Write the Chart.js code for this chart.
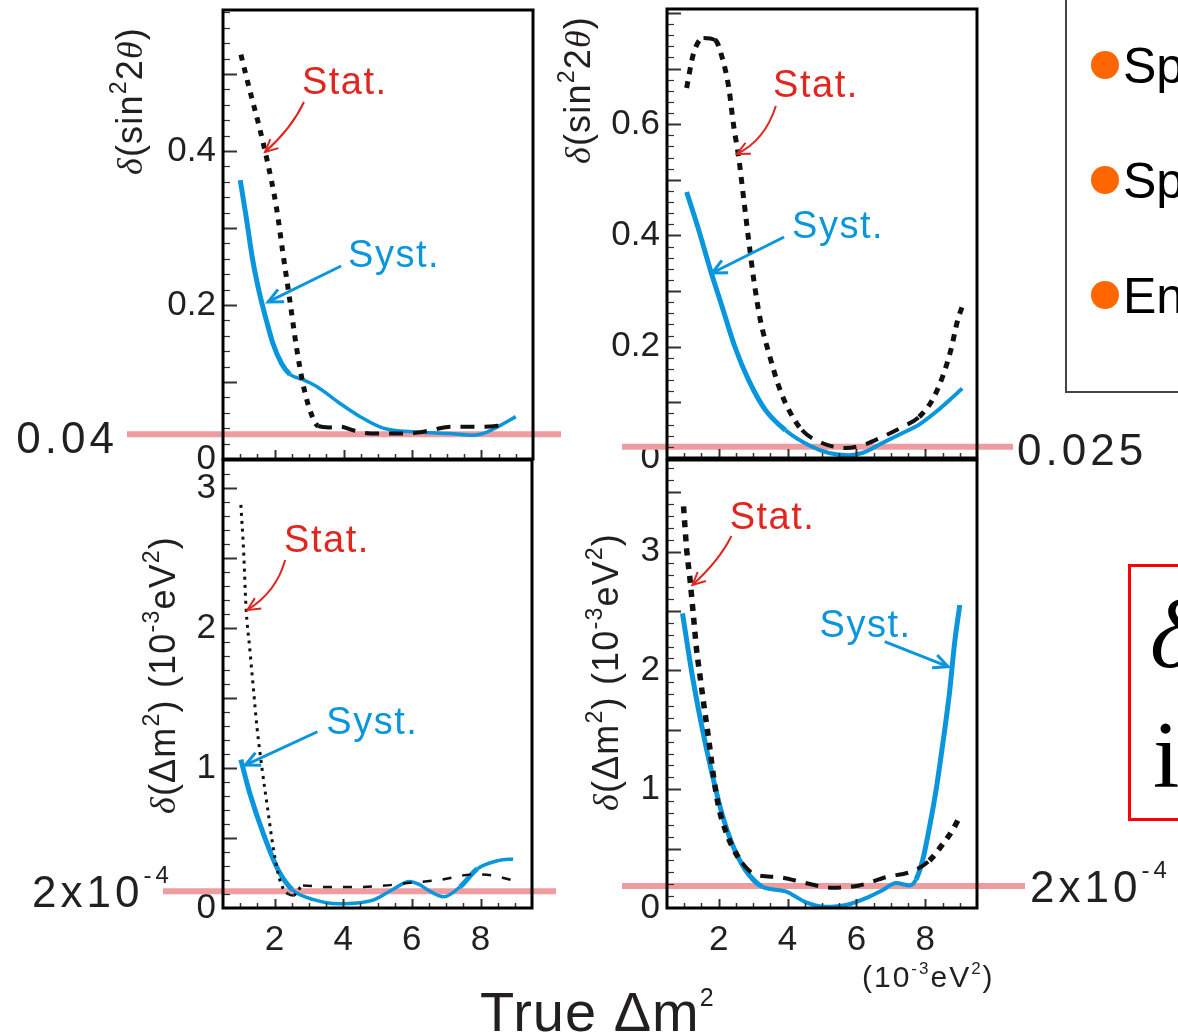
<!DOCTYPE html>
<html>
<head>
<meta charset="utf-8">
<title>Stat. vs Syst.</title>
<script src="https://cdn.jsdelivr.net/npm/chart.js@4.4.1/dist/chart.umd.min.js"></script>
<style>
  body { margin: 0; background: #fff; }
  #wrap { position: relative; width: 1178px; height: 1036px; overflow: hidden; }
  #wrap canvas { position: absolute; left: 0; top: 0; }
</style>
</head>
<body>
<div id="wrap">
  <canvas id="tl" width="1178" height="1036"></canvas>
  <canvas id="tr" width="1178" height="1036"></canvas>
  <canvas id="bl" width="1178" height="1036"></canvas>
  <canvas id="br" width="1178" height="1036"></canvas>
</div>
<script>
// ===== DATA =====
const xTicks = [2, 4, 6, 8];
const sinTicks = [0, 0.2, 0.4, 0.6];
const dmTicks = [0, 1, 2, 3];

// top left: delta(sin^2 2theta)
const tlStatX = [1.02, 1.27, 1.56, 1.8, 2.05, 2.24, 2.44, 2.63, 2.82, 3.02, 3.26, 3.6, 3.9, 4.3, 4.6, 5.0, 5.4, 6.1, 6.6, 7.1, 7.6, 8.1, 8.65];
const tlStatY = [0.525, 0.48, 0.43, 0.384, 0.327, 0.267, 0.206, 0.146, 0.098, 0.064, 0.043, 0.041, 0.042, 0.037, 0.034, 0.033, 0.033, 0.034, 0.038, 0.042, 0.042, 0.042, 0.044];
const tlSystX = [1.0, 1.17, 1.36, 1.56, 1.76, 1.95, 2.2, 2.44, 2.62, 2.82, 3.22, 3.9, 4.48, 5.15, 6.1, 7.08, 7.76, 8.16, 8.57, 9.0];
const tlSystY = [0.362, 0.315, 0.259, 0.215, 0.18, 0.15, 0.124, 0.11, 0.106, 0.103, 0.094, 0.072, 0.055, 0.04, 0.035, 0.033, 0.031, 0.035, 0.044, 0.055];

// top right: delta(sin^2 2theta)
const trStatX = [1.07, 1.27, 1.56, 1.9, 2.1, 2.29, 2.44, 2.58, 2.73, 2.87, 3.02, 3.21, 3.46, 3.75, 4.04, 4.42, 5.0, 5.69, 6.17, 6.75, 7.34, 7.82, 8.2, 8.5, 8.74, 8.94, 9.07];
const trStatY = [0.665, 0.727, 0.755, 0.751, 0.72, 0.667, 0.595, 0.541, 0.464, 0.392, 0.32, 0.248, 0.188, 0.128, 0.086, 0.05, 0.027, 0.018, 0.023, 0.038, 0.056, 0.074, 0.104, 0.146, 0.194, 0.248, 0.272];
const trSystX = [1.07, 1.42, 1.76, 2.1, 2.47, 2.87, 3.36, 3.94, 4.62, 5.2, 5.78, 6.17, 6.75, 7.34, 7.82, 8.31, 8.7, 9.07];
const trSystY = [0.478, 0.41, 0.338, 0.272, 0.2, 0.14, 0.086, 0.05, 0.023, 0.009, 0.005, 0.009, 0.027, 0.045, 0.06, 0.083, 0.104, 0.125];

// bottom left: delta(dm^2), 10^-3 eV^2
const blStatX = [1.02, 1.1, 1.17, 1.28, 1.38, 1.49, 1.64, 1.8, 1.95, 2.11, 2.25, 2.4, 2.55, 2.83, 3.5, 4.4, 5.2, 5.94, 6.8, 7.81, 8.4, 8.9];
const blStatY = [2.88, 2.55, 2.15, 1.85, 1.58, 1.29, 0.99, 0.71, 0.45, 0.24, 0.14, 0.1, 0.09, 0.16, 0.15, 0.15, 0.16, 0.18, 0.2, 0.24, 0.23, 0.2];
const blSystX = [1.02, 1.28, 1.69, 2.11, 2.52, 3.14, 3.87, 4.4, 4.91, 5.43, 5.94, 6.2, 6.46, 6.93, 7.4, 7.91, 8.54, 8.95];
const blSystY = [1.06, 0.82, 0.52, 0.27, 0.13, 0.06, 0.03, 0.035, 0.06, 0.13, 0.19, 0.17, 0.13, 0.08, 0.15, 0.28, 0.34, 0.35];

// bottom right: delta(dm^2), 10^-3 eV^2
const brStatX = [0.98, 1.07, 1.17, 1.27, 1.36, 1.46, 1.56, 1.71, 1.85, 2.0, 2.19, 2.39, 2.68, 3.07, 3.75, 4.52, 5.3, 6.08, 6.86, 7.63, 8.12, 8.51, 8.8, 9.0];
const brStatY = [3.38, 3.02, 2.76, 2.45, 2.17, 1.95, 1.73, 1.42, 1.11, 0.85, 0.66, 0.52, 0.38, 0.28, 0.26, 0.21, 0.17, 0.19, 0.26, 0.31, 0.40, 0.54, 0.66, 0.77];
const brSystX = [0.95, 1.22, 1.51, 1.8, 2.09, 2.39, 2.78, 3.26, 3.94, 4.52, 5.11, 5.69, 6.37, 6.76, 7.15, 7.54, 7.73, 7.92, 8.12, 8.31, 8.51, 8.7, 8.85, 9.0];
const brSystY = [2.48, 1.98, 1.53, 1.14, 0.80, 0.54, 0.32, 0.18, 0.14, 0.05, 0.01, 0.025, 0.095, 0.15, 0.21, 0.19, 0.24, 0.40, 0.68, 0.99, 1.39, 1.81, 2.23, 2.55];

// pink goal lines (tl, tr, bl, br), in axis units
const limitValues = [0.032, 0.02, 0.12, 0.185];
const limitLabels = [['0.04', ''], ['0.025', ''], ['2x10', '-4'], ['2x10', '-4']];

const legendItems = ['Spectrum shape', 'Spectrum normalization', 'Energy scale'];
const boxLines = ['δ', 'i'];

// ===== STYLE =====
const FONT = "'Liberation Sans', Arial, Helvetica, sans-serif";
const SERIF = "'Liberation Serif', 'Times New Roman', serif";
const INK = '#231f20';
const RED = '#e0261f';
const BLUE = '#0a96dc';
const PINK = '#ee9ca0';
const ORANGE = '#ff6600';

const sinTitle = [['δ', 'i'], ['(sin', ''], ['2', 's'], ['2', ''], ['θ', 'i'], [')', '']];
const dmTitle = [['δ', 'i'], ['(Δm', ''], ['2', 's'], [') (10', ''], ['-3', 's'], ['eV', ''], ['2', 's'], [')', '']];

const pts = (xs, ys) => xs.map((x, i) => ({ x, y: ys[i] }));
const steep = c => Math.abs(c.p1.y - c.p0.y) > Math.abs(c.p1.x - c.p0.x);

// rich text: parts = [text, ''|'i'|'s']
function drawRich(ctx, parts, x, y, size, o = {}) {
  const supScale = o.supScale || 0.62;
  const supRaise = o.supRaise || 0.42;
  const font = s => s === 'i' ? `italic ${size}px ${SERIF}`
    : s === 's' ? `${Math.round(size * supScale)}px ${FONT}` : `${size}px ${FONT}`;
  ctx.save();
  ctx.letterSpacing = (o.spacing || 0) + 'px';
  ctx.textBaseline = 'alphabetic';
  ctx.textAlign = 'left';
  let w = 0;
  for (const [t, s] of parts) { ctx.font = font(s); w += ctx.measureText(t).width; }
  ctx.translate(x, y);
  if (o.rot) ctx.rotate(o.rot);
  let cx = o.align === 'center' ? -w / 2 : o.align === 'right' ? -w : 0;
  const base = o.middle ? size * 0.35 : 0;
  for (const [t, s] of parts) {
    ctx.font = font(s);
    ctx.fillText(t, cx, base + (s === 's' ? -size * supRaise : 0));
    cx += ctx.measureText(t).width;
  }
  ctx.restore();
}

function arrowHead(ctx, x, y, fromX, fromY, len) {
  const a = Math.atan2(y - fromY, x - fromX);
  ctx.beginPath();
  ctx.moveTo(x - len * Math.cos(a - 0.45), y - len * Math.sin(a - 0.45));
  ctx.lineTo(x, y);
  ctx.lineTo(x - len * Math.cos(a + 0.45), y - len * Math.sin(a + 0.45));
  ctx.stroke();
}

const panels = [
  {
    id: 'tl', box: [223, 10, 533, 459], yMax: 0.583, yTicks: sinTicks, minor: 0.02, major: 0.1,
    fmt: v => v === 0 ? '0' : v.toFixed(1), xLabels: false,
    stat: pts(tlStatX, tlStatY), syst: pts(tlSystX, tlSystY),
    statDash: [[6, 7], [14, 10]], statW: [5, 4], systW: [5, 3.5],
    limit: 0, limitSpan: [96, 28], limitAt: [118, 453, 'right'],
    title: sinTitle, titleAt: [129, 101],
    statText: [2.79, 0.488], statArrow: [2.85, 0.4636, 2.5, 0.4298, 1.72, 0.3986],
    systText: [4.13, 0.2623], systArrow: [3.93, 0.2506, 1.81, 0.2039]
  },
  {
    id: 'tr', box: [667, 9, 977, 458], yMax: 0.807, yTicks: sinTicks, minor: 0.02, major: 0.1,
    fmt: v => v === 0 ? '0' : v.toFixed(1), xLabels: false,
    stat: pts(trStatX, trStatY), syst: pts(trSystX, trSystY),
    statDash: [[7, 7], [13, 10]], statW: [5, 4], systW: [5, 4],
    limit: 1, limitSpan: [45, 36], limitAt: [1017, 465, 'left'],
    title: sinTitle, titleAt: [577, 90],
    statText: [3.58, 0.6668], statArrow: [3.66, 0.6327, 3.35, 0.5715, 2.53, 0.5464],
    systText: [4.13, 0.4134], systArrow: [3.90, 0.3972, 1.81, 0.3325]
  },
  {
    id: 'bl', box: [223, 460, 532, 908], yMax: 3.2, yTicks: dmTicks, minor: 0.1, major: 0.5,
    fmt: v => String(v), xLabels: true,
    stat: pts(blStatX, blStatY), syst: pts(blSystX, blSystY),
    statDash: [[3, 5], [9, 11]], statW: [3, 2.5], systW: [5, 3.5],
    limit: 2, limitSpan: [60, 24], limitAt: [32, 907, 'left'],
    title: dmTitle, titleAt: [162, 675],
    statText: [2.28, 2.616], statArrow: [2.31, 2.486, 2.06, 2.259, 1.21, 2.129],
    systText: [3.51, 1.319], systArrow: [3.25, 1.259, 1.15, 1.021]
  },
  {
    id: 'br', box: [667, 460, 977, 908], yMax: 3.77, yTicks: dmTicks, minor: 0.1, major: 0.5,
    fmt: v => String(v), xLabels: true,
    stat: pts(brStatX, brStatY), syst: pts(brSystX, brSystY),
    statDash: [[7, 7], [13, 10]], statW: [5.5, 4], systW: [5, 4],
    limit: 3, limitSpan: [45, 48], limitAt: [1030, 902, 'left'],
    title: dmTitle, titleAt: [605, 672],
    statText: [2.32, 3.279], statArrow: [2.37, 3.13, 2.03, 2.928, 1.24, 2.718],
    systText: [4.93, 2.367], systArrow: [6.82, 2.241, 8.66, 2.031]
  }
];

// ===== PLUGINS =====
function panelPlugin(p) {
  return {
    id: 'panel_' + p.id,
    beforeDatasetsDraw(chart) {
      const { ctx, chartArea: a, scales: { y } } = chart;
      const py = y.getPixelForValue(limitValues[p.limit]);
      ctx.save();
      ctx.strokeStyle = PINK;
      ctx.lineWidth = 6;
      ctx.beginPath();
      ctx.moveTo(a.left - p.limitSpan[0], py);
      ctx.lineTo(a.right + p.limitSpan[1], py);
      ctx.stroke();
      ctx.fillStyle = INK;
      const [main, sup] = limitLabels[p.limit];
      const parts = sup ? [[main, ''], [sup, 's']] : [[main, '']];
      drawRich(ctx, parts, p.limitAt[0], p.limitAt[1], 44,
        { align: p.limitAt[2], spacing: 4, supScale: 0.55, supRaise: 0.55 });
      ctx.restore();
    },
    afterDatasetsDraw(chart) {
      const { ctx, chartArea: a, scales: { x, y } } = chart;
      const X = v => x.getPixelForValue(v);
      const Y = v => y.getPixelForValue(v);
      ctx.save();

      // inner ticks
      ctx.strokeStyle = '#333';
      const nY = Math.floor(p.yMax / p.minor + 1e-6);
      for (let i = 1; i <= nY; i++) {
        const v = i * p.minor;
        const r = v / p.major;
        const isMajor = Math.abs(r - Math.round(r)) < 1e-6;
        const py = Math.round(Y(v)) + 0.5;
        ctx.lineWidth = isMajor ? 2 : 1.2;
        ctx.beginPath();
        ctx.moveTo(a.left, py);
        ctx.lineTo(a.left + (isMajor ? 14 : 7), py);
        ctx.stroke();
      }
      for (let i = 2; i <= 18; i++) {
        const v = i * 0.5;
        const isMajor = v % 2 === 0;
        const px = Math.round(X(v)) + 0.5;
        ctx.lineWidth = isMajor ? 2 : 1.5;
        ctx.beginPath();
        ctx.moveTo(px, a.bottom);
        ctx.lineTo(px, a.bottom - (isMajor ? 9 : 5));
        ctx.stroke();
      }

      // frame
      ctx.strokeStyle = '#000';
      ctx.lineWidth = 3;
      ctx.strokeRect(a.left, a.top, a.right - a.left, a.bottom - a.top);

      // axis title
      ctx.fillStyle = INK;
      drawRich(ctx, p.title, p.titleAt[0], p.titleAt[1], 36,
        { align: 'center', rot: -Math.PI / 2, spacing: 1.2, middle: true, supScale: 0.65 });

      // Stat. note
      ctx.font = `38px ${FONT}`;
      ctx.letterSpacing = '1.5px';
      ctx.textBaseline = 'middle';
      ctx.textAlign = 'left';
      ctx.fillStyle = RED;
      ctx.fillText('Stat.', X(p.statText[0]), Y(p.statText[1]));
      const s = p.statArrow;
      ctx.strokeStyle = RED;
      ctx.lineWidth = 2;
      ctx.beginPath();
      ctx.moveTo(X(s[0]), Y(s[1]));
      ctx.quadraticCurveTo(X(s[2]), Y(s[3]), X(s[4]), Y(s[5]));
      ctx.stroke();
      arrowHead(ctx, X(s[4]), Y(s[5]), X(s[2]), Y(s[3]), 14);

      // Syst. note
      ctx.fillStyle = BLUE;
      ctx.fillText('Syst.', X(p.systText[0]), Y(p.systText[1]));
      const q = p.systArrow;
      ctx.strokeStyle = BLUE;
      ctx.lineWidth = 3;
      ctx.beginPath();
      ctx.moveTo(X(q[0]), Y(q[1]));
      ctx.lineTo(X(q[2]), Y(q[3]));
      ctx.stroke();
      arrowHead(ctx, X(q[2]), Y(q[3]), X(q[0]), Y(q[1]), 16);

      ctx.restore();
    }
  };
}

// page level texts, legend box and red box
const decorPlugin = {
  id: 'decor',
  afterDraw(chart) {
    const ctx = chart.ctx;
    ctx.save();
    ctx.fillStyle = INK;
    drawRich(ctx, [['True Δm', ''], ['2', 's']], 480, 1031, 56, { spacing: 1, supScale: 0.45, supRaise: 0.45 });
    drawRich(ctx, [['(10', ''], ['-3', 's'], ['eV', ''], ['2', 's'], [')', '']], 862, 987, 30,
      { spacing: 2, supScale: 0.58, supRaise: 0.45 });

    // legend box
    ctx.strokeStyle = '#444';
    ctx.lineWidth = 2;
    ctx.strokeRect(1066, -10, 200, 402);
    ctx.font = `50px ${FONT}`;
    ctx.textBaseline = 'alphabetic';
    ctx.textAlign = 'left';
    legendItems.forEach((t, i) => {
      const cy = 65 + i * 115;
      ctx.fillStyle = ORANGE;
      ctx.beginPath();
      ctx.arc(1105, cy, 14, 0, Math.PI * 2);
      ctx.fill();
      ctx.fillStyle = '#000';
      ctx.fillText(t, 1123, cy + 18);
    });

    // red box
    ctx.strokeStyle = '#ff0000';
    ctx.lineWidth = 3;
    ctx.strokeRect(1129.5, 565.5, 120, 254);
    ctx.fillStyle = '#000';
    ctx.font = `italic 98px ${SERIF}`;
    ctx.fillText(boxLines[0], 1150, 667);
    ctx.font = `95px ${SERIF}`;
    ctx.fillText(boxLines[1], 1153, 787);
    ctx.restore();
  }
};

// ===== CHARTS =====
panels.forEach(p => {
  const [left, top, right, bottom] = p.box;
  const yw = 80, xh = 70;
  const tickFont = { family: FONT, size: 35 };
  new Chart(document.getElementById(p.id), {
    type: 'line',
    data: {
      datasets: [
        {
          label: 'Stat.',
          data: p.stat,
          borderColor: '#111',
          borderWidth: p.statW[0],
          borderDash: p.statDash[0],
          segment: {
            borderDash: c => steep(c) ? p.statDash[0] : p.statDash[1],
            borderWidth: c => steep(c) ? p.statW[0] : p.statW[1]
          },
          pointRadius: 0,
          cubicInterpolationMode: 'monotone',
          fill: false
        },
        {
          label: 'Syst.',
          data: p.syst,
          borderColor: BLUE,
          borderWidth: p.systW[0],
          segment: {
            borderWidth: c => steep(c) ? p.systW[0] : p.systW[1]
          },
          pointRadius: 0,
          cubicInterpolationMode: 'monotone',
          fill: false
        }
      ]
    },
    options: {
      responsive: false,
      animation: false,
      events: [],
      layout: { padding: { left: left - yw, top: top, right: 1178 - right, bottom: 1036 - bottom - xh } },
      plugins: { legend: { display: false }, tooltip: { enabled: false } },
      scales: {
        x: {
          type: 'linear',
          min: 0.5,
          max: 9.5,
          afterBuildTicks: axis => { axis.ticks = xTicks.map(value => ({ value })); },
          afterFit: axis => { axis.height = xh; axis.paddingLeft = 0; axis.paddingRight = 0; },
          ticks: { display: p.xLabels, padding: 11, font: tickFont, color: INK, autoSkip: false, maxRotation: 0 },
          grid: { display: false, drawTicks: false },
          border: { display: false }
        },
        y: {
          min: 0,
          max: p.yMax,
          afterBuildTicks: axis => { axis.ticks = p.yTicks.filter(v => v <= p.yMax).map(value => ({ value })); },
          afterFit: axis => { axis.width = yw; axis.paddingTop = 0; axis.paddingBottom = 0; },
          ticks: { padding: 7, font: tickFont, color: INK, callback: v => p.fmt(v) },
          grid: { display: false, drawTicks: false },
          border: { display: false }
        }
      }
    },
    plugins: p.id === 'br' ? [panelPlugin(p), decorPlugin] : [panelPlugin(p)]
  });
});
</script>
</body>
</html>
